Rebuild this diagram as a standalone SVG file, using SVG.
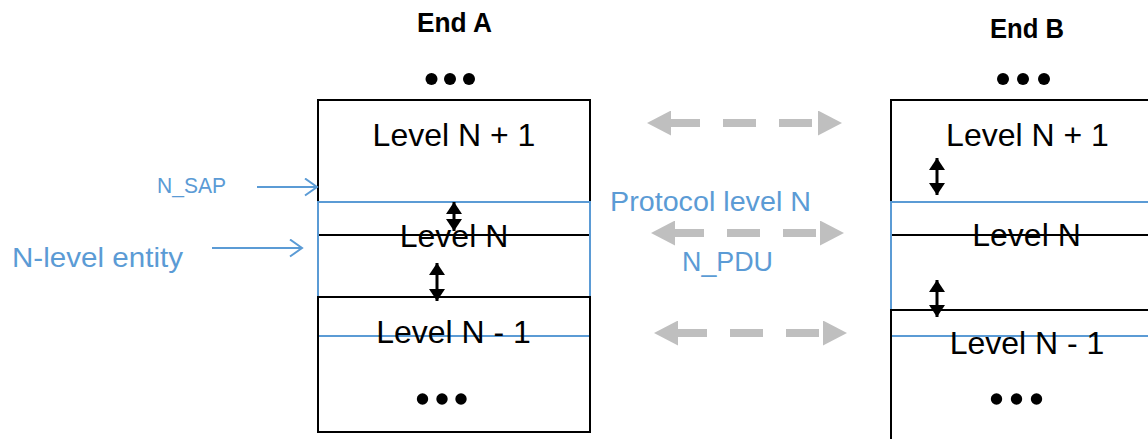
<svg xmlns="http://www.w3.org/2000/svg" width="1148" height="439" viewBox="0 0 1148 439">
  <style>
    .box { fill: none; stroke: #000; stroke-width: 2; }
    .ent { fill: none; stroke: #5B9BD5; stroke-width: 2; }
    .lvl { font-family: "Liberation Sans", Arial, sans-serif; font-size: 32px; fill: #000; text-anchor: middle; }
    .end { font-family: "Liberation Sans", Arial, sans-serif; font-size: 28px; font-weight: bold; fill: #000; }
    .blue { font-family: "Liberation Sans", Arial, sans-serif; fill: #5B9BD5; }
    .dot { fill: #000; }
    .dbl { stroke: #000; stroke-width: 3; marker-start: url(#blk); marker-end: url(#blk); }
    .gray { stroke: #BFBFBF; stroke-width: 8; stroke-dasharray: 29 23 33 23 33 23; marker-start: url(#gry); marker-end: url(#gry); }
    .ptr { stroke: #5B9BD5; stroke-width: 2; fill: none; marker-end: url(#opn); }
  </style>
  <defs>
    <marker id="blk" viewBox="0 0 12 16" refX="12" refY="8" markerWidth="12" markerHeight="16" markerUnits="userSpaceOnUse" orient="auto-start-reverse">
      <path d="M0,0 L12,8 L0,16 Z" fill="#000"/>
    </marker>
    <marker id="gry" viewBox="0 0 24 25" refX="0" refY="12.5" markerWidth="24" markerHeight="25" markerUnits="userSpaceOnUse" orient="auto-start-reverse">
      <path d="M0,0 L24,12.5 L0,25 Z" fill="#BFBFBF"/>
    </marker>
    <marker id="opn" viewBox="0 0 15 19" refX="13" refY="9.5" markerWidth="15" markerHeight="19" markerUnits="userSpaceOnUse" orient="auto">
      <path d="M1,1 L13,9.5 L1,18" fill="none" stroke="#5B9BD5" stroke-width="2"/>
    </marker>
  </defs>

  <g id="endA">
    <text class="end" x="417" y="32" textLength="75" lengthAdjust="spacingAndGlyphs">End A</text>
    <circle class="dot" cx="431.5" cy="79" r="6"/>
    <circle class="dot" cx="450" cy="79" r="6"/>
    <circle class="dot" cx="469" cy="79" r="6"/>
    <rect class="box" x="318" y="100" width="272" height="135"/>
    <rect class="ent" x="318" y="202" width="272" height="134"/>
    <rect class="box" x="318" y="297" width="272" height="135"/>
    <text class="lvl" x="454" y="146">Level N + 1</text>
    <text class="lvl" x="454" y="247">Level N</text>
    <text class="lvl" x="453.5" y="343">Level N - 1</text>
    <circle class="dot" cx="422.5" cy="399" r="5.7"/>
    <circle class="dot" cx="442" cy="399" r="5.7"/>
    <circle class="dot" cx="461" cy="399" r="5.7"/>
  </g>

  <g id="endB">
    <text class="end" x="990" y="38" textLength="74" lengthAdjust="spacingAndGlyphs">End B</text>
    <circle class="dot" cx="1003" cy="79" r="6"/>
    <circle class="dot" cx="1023" cy="79" r="6"/>
    <circle class="dot" cx="1044" cy="79" r="6"/>
    <rect class="box" x="891" y="100" width="272" height="135"/>
    <rect class="ent" x="891" y="202" width="272" height="134"/>
    <rect class="box" x="891" y="310" width="272" height="140"/>
    <text class="lvl" x="1027.5" y="146">Level N + 1</text>
    <text class="lvl" x="1026.5" y="246">Level N</text>
    <text class="lvl" x="1027" y="354">Level N - 1</text>
    <circle class="dot" cx="996.5" cy="399" r="5.7"/>
    <circle class="dot" cx="1016.5" cy="399" r="5.7"/>
    <circle class="dot" cx="1036.5" cy="399" r="5.7"/>
  </g>

  <g id="labels">
    <text class="blue" x="157" y="193" font-size="22.5" textLength="69" lengthAdjust="spacingAndGlyphs">N_SAP</text>
    <text class="blue" x="12" y="267" font-size="28" textLength="171" lengthAdjust="spacingAndGlyphs">N-level entity</text>
    <text class="blue" x="610" y="211" font-size="27" textLength="201" lengthAdjust="spacingAndGlyphs">Protocol level N</text>
    <text class="blue" x="682" y="271" font-size="27" textLength="91" lengthAdjust="spacingAndGlyphs">N_PDU</text>
  </g>

  <g id="connectors">
    <line class="ptr" x1="257" y1="187" x2="317" y2="187"/>
    <line class="ptr" x1="212" y1="248" x2="302" y2="248"/>
    <line class="dbl" x1="454" y1="202" x2="454" y2="231"/>
    <line class="dbl" x1="437" y1="263" x2="437" y2="301"/>
    <line class="dbl" x1="937" y1="158" x2="937" y2="195"/>
    <line class="dbl" x1="937" y1="280" x2="937" y2="317"/>
    <line class="gray" x1="671" y1="123" x2="818" y2="123"/>
    <line class="gray" x1="675" y1="233" x2="820" y2="233"/>
    <line class="gray" x1="678" y1="333" x2="823" y2="333"/>
  </g>
</svg>
